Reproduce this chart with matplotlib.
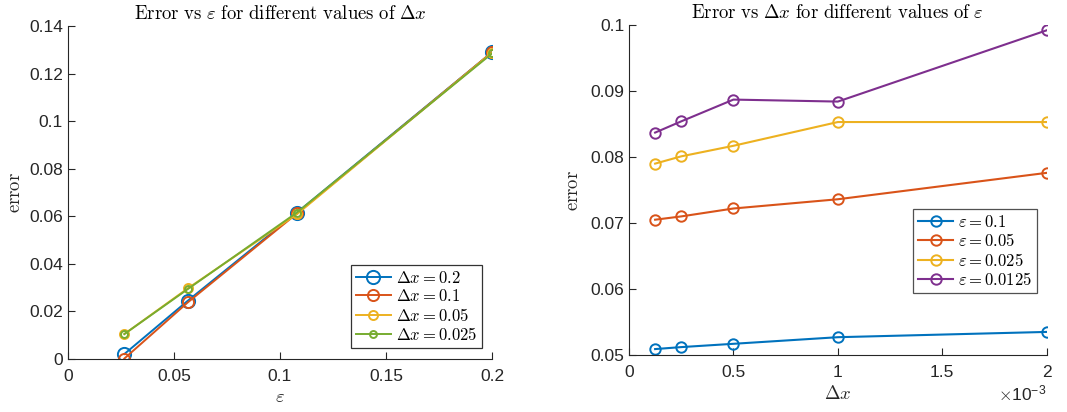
import matplotlib.pyplot as plt
from matplotlib.ticker import FuncFormatter

# colours (MATLAB default order)
c_blue = "#0072BD"
c_red = "#D95319"
c_yellow = "#EDB120"
c_purple = "#7E2F8E"
c_green = "#77AC30"
axis_col = "#262626"

# left panel data: error vs epsilon for several dx
eps_vals = [0.0266, 0.0565, 0.108, 0.2]
err_dx_02 = [0.0021, 0.0245, 0.0616, 0.1290]
err_dx_01 = [0.0002, 0.0238, 0.0612, 0.1290]
err_dx_005 = [0.0105, 0.0297, 0.0609, 0.1289]
err_dx_0025 = [0.0105, 0.0294, 0.0616, 0.1285]
left_labels = [r"$\Delta x = 0.2$", r"$\Delta x = 0.1$", r"$\Delta x = 0.05$", r"$\Delta x = 0.025$"]

# right panel data: error vs dx for several epsilon
dx_vals = [0.000125, 0.00025, 0.0005, 0.001, 0.002]
err_eps_01 = [0.0509, 0.0512, 0.0517, 0.0527, 0.0535]
err_eps_005 = [0.0705, 0.0710, 0.0722, 0.0736, 0.0776]
err_eps_0025 = [0.0790, 0.0801, 0.0817, 0.0853, 0.0853]
err_eps_00125 = [0.0837, 0.0854, 0.0887, 0.0884, 0.0992]
right_labels = [r"$\varepsilon = 0.1$", r"$\varepsilon = 0.05$", r"$\varepsilon = 0.025$", r"$\varepsilon = 0.0125$"]

plt.rcParams["mathtext.fontset"] = "cm"
plt.rcParams["font.family"] = ["Liberation Sans", "DejaVu Sans"]

tick_fs = 12.5
title_fs = 13.5
label_fs = 13.5
legend_fs = 12

fig = plt.figure(figsize=(10.67, 4.12), dpi=100)
ax1 = fig.add_axes([0.0637, 0.1286, 0.3974, 0.808])
ax2 = fig.add_axes([0.5895, 0.1383, 0.3915, 0.801])


def style_axes(ax):
    for s in ["top", "right"]:
        ax.spines[s].set_visible(False)
    for s in ["left", "bottom"]:
        ax.spines[s].set_color(axis_col)
        ax.spines[s].set_linewidth(0.8)
    ax.tick_params(direction="in", length=5, width=0.8, colors=axis_col, labelsize=tick_fs)
    ax.tick_params(axis="x", pad=7)


# left
ax1.plot(eps_vals, err_dx_02, "-o", color=c_blue, lw=1.4, ms=9.5, mew=1.4, mfc="none", label=left_labels[0])
ax1.plot(eps_vals, err_dx_01, "-o", color=c_red, lw=1.4, ms=8, mew=1.4, mfc="none", label=left_labels[1])
ax1.plot(eps_vals, err_dx_005, "-o", color=c_yellow, lw=1.4, ms=6.5, mew=1.4, mfc="none", label=left_labels[2])
ax1.plot(eps_vals, err_dx_0025, "-o", color=c_green, lw=1.4, ms=5, mew=1.4, mfc="none", label=left_labels[3])
ax1.set_xlim(0, 0.2)
ax1.set_ylim(0, 0.14)
ax1.set_xticks([0, 0.05, 0.1, 0.15, 0.2])
ax1.set_xticklabels(["0", "0.05", "0.1", "0.15", "0.2"])
ax1.set_yticks([0, 0.02, 0.04, 0.06, 0.08, 0.1, 0.12, 0.14])
ax1.set_yticklabels(["0", "0.02", "0.04", "0.06", "0.08", "0.1", "0.12", "0.14"])
style_axes(ax1)
ax1.set_title(r"$\mathrm{Error\ vs\ }\varepsilon\mathrm{\ for\ different\ values\ of\ }\Delta x$",
              fontsize=title_fs, color="black", pad=5)
ax1.set_xlabel(r"$\varepsilon$", fontsize=label_fs, color=axis_col, labelpad=4)
ax1.set_ylabel(r"$\mathrm{error}$", fontsize=label_fs, color=axis_col, labelpad=4)
leg1 = ax1.legend(loc="lower right", fontsize=legend_fs, frameon=True, fancybox=False,
                  edgecolor="black", handlelength=2.1, handletextpad=0.3,
                  borderpad=0.3, labelspacing=0.15, borderaxespad=0,
                  bbox_to_anchor=(0.976, 0.033))
leg1.get_frame().set_linewidth(0.9)

# right
ax2.plot(dx_vals, err_eps_01, "-o", color=c_blue, lw=1.5, ms=7.5, mew=1.4, mfc="none", label=right_labels[0])
ax2.plot(dx_vals, err_eps_005, "-o", color=c_red, lw=1.5, ms=7.5, mew=1.4, mfc="none", label=right_labels[1])
ax2.plot(dx_vals, err_eps_0025, "-o", color=c_yellow, lw=1.5, ms=7.5, mew=1.4, mfc="none", label=right_labels[2])
ax2.plot(dx_vals, err_eps_00125, "-o", color=c_purple, lw=1.5, ms=7.5, mew=1.4, mfc="none", label=right_labels[3])
ax2.set_xlim(0, 0.002)
ax2.set_ylim(0.05, 0.1)
ax2.set_xticks([0, 0.0005, 0.001, 0.0015, 0.002])
ax2.xaxis.set_major_formatter(FuncFormatter(lambda v, p: f"{v * 1e3:g}"))
ax2.set_yticks([0.05, 0.06, 0.07, 0.08, 0.09, 0.1])
ax2.set_yticklabels(["0.05", "0.06", "0.07", "0.08", "0.09", "0.1"])
style_axes(ax2)
ax2.set_title(r"$\mathrm{Error\ vs\ }\Delta x\mathrm{\ for\ different\ values\ of\ }\varepsilon$",
              fontsize=title_fs, color="black", pad=5)
ax2.set_xlabel(r"$\Delta x$", fontsize=label_fs, color=axis_col, labelpad=4)
ax2.set_ylabel(r"$\mathrm{error}$", fontsize=label_fs, color=axis_col, labelpad=6)
ax2.text(1.0, -0.085, r"$\times\mathregular{10^{-3}}$", transform=ax2.transAxes,
         ha="right", va="top", fontsize=tick_fs, color=axis_col)
leg2 = ax2.legend(loc="center right", fontsize=legend_fs, frameon=True, fancybox=False,
                  edgecolor=axis_col, handlelength=2.1, handletextpad=0.3,
                  borderpad=0.3, labelspacing=0.15, borderaxespad=0,
                  bbox_to_anchor=(0.977, 0.315))
leg2.get_frame().set_linewidth(0.9)

fig.savefig("out.png", dpi=100)
